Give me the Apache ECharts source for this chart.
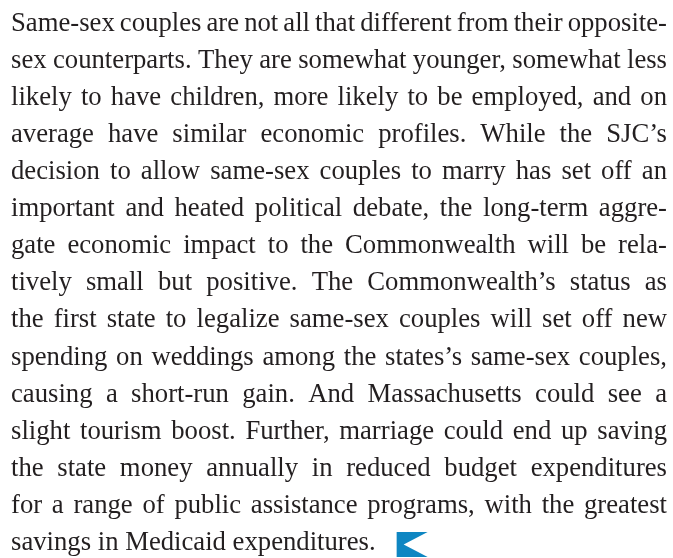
<!DOCTYPE html>
<html>
<head>
<meta charset="utf-8">
<script src="https://cdn.jsdelivr.net/npm/echarts@6/dist/echarts.min.js"></script>
<style>
html,body{margin:0;padding:0;background:#fff;}
#chart{width:673px;height:558px;}
</style>
</head>
<body>
<div id="chart"></div>
<script>
// Paragraph lines as they break in the reference
var lines = [
  "Same-sex couples are not all that different from their opposite-",
  "sex counterparts. They are somewhat younger, somewhat less",
  "likely to have children, more likely to be employed, and on",
  "average have similar economic profiles. While the SJC\u2019s",
  "decision to allow same-sex couples to marry has set off an",
  "important and heated political debate, the long-term aggre-",
  "gate economic impact to the Commonwealth will be rela-",
  "tively small but positive. The Commonwealth\u2019s status as",
  "the first state to legalize same-sex couples will set off new",
  "spending on weddings among the states\u2019s same-sex couples,",
  "causing a short-run gain. And Massachusetts could see a",
  "slight tourism boost. Further, marriage could end up saving",
  "the state money annually in reduced budget expenditures",
  "for a range of public assistance programs, with the greatest",
  "savings in Medicaid expenditures."
];

var FONT_FAMILY = '"Liberation Serif", "Times New Roman", serif';
var FS = 26.7;
var SX = 1.0;
var LEFT = 11, RIGHT = 667, BASE0 = 33, STEP = 37.07;
var TEXT_COLOR = '#231f20';
var ICON_COLOR = '#0e86c2';

var canvas = document.createElement('canvas');
var ctx = canvas.getContext('2d');
ctx.font = FS + 'px ' + FONT_FAMILY;
var spaceW = ctx.measureText(' ').width * SX;

var elements = [];
var lastEnd = 0;
lines.forEach(function (line, li) {
  var words = line.split(' ');
  var widths = words.map(function (w) { return ctx.measureText(w).width * SX; });
  var sum = widths.reduce(function (a, b) { return a + b; }, 0);
  var isLast = li === lines.length - 1;
  var gap = isLast || words.length < 2 ? spaceW : (RIGHT - LEFT - sum) / (words.length - 1);
  var x = LEFT;
  var baseline = BASE0 + li * STEP;
  words.forEach(function (w, wi) {
    elements.push({
      type: 'text',
      x: x,
      y: baseline - 0.34 * FS,
      scaleX: SX,
      silent: true,
      style: {
        text: w,
        fill: TEXT_COLOR,
        font: FS + 'px ' + FONT_FAMILY,
        align: 'left',
        verticalAlign: 'middle'
      }
    });
    x += widths[wi] + gap;
  });
  if (isLast) lastEnd = x - gap;
});

// end-of-article mark
var ix = lastEnd + 21;
elements.push({
  type: 'polygon',
  silent: true,
  shape: {
    points: [[ix, 532], [ix + 31, 532], [ix + 7, 544.5], [ix + 31, 557], [ix, 557]]
  },
  style: { fill: ICON_COLOR }
});

var chart = echarts.init(document.getElementById('chart'), null, { renderer: 'canvas' });
chart.setOption({
  backgroundColor: '#ffffff',
  animation: false,
  graphic: { elements: elements }
});
</script>
</body>
</html>
